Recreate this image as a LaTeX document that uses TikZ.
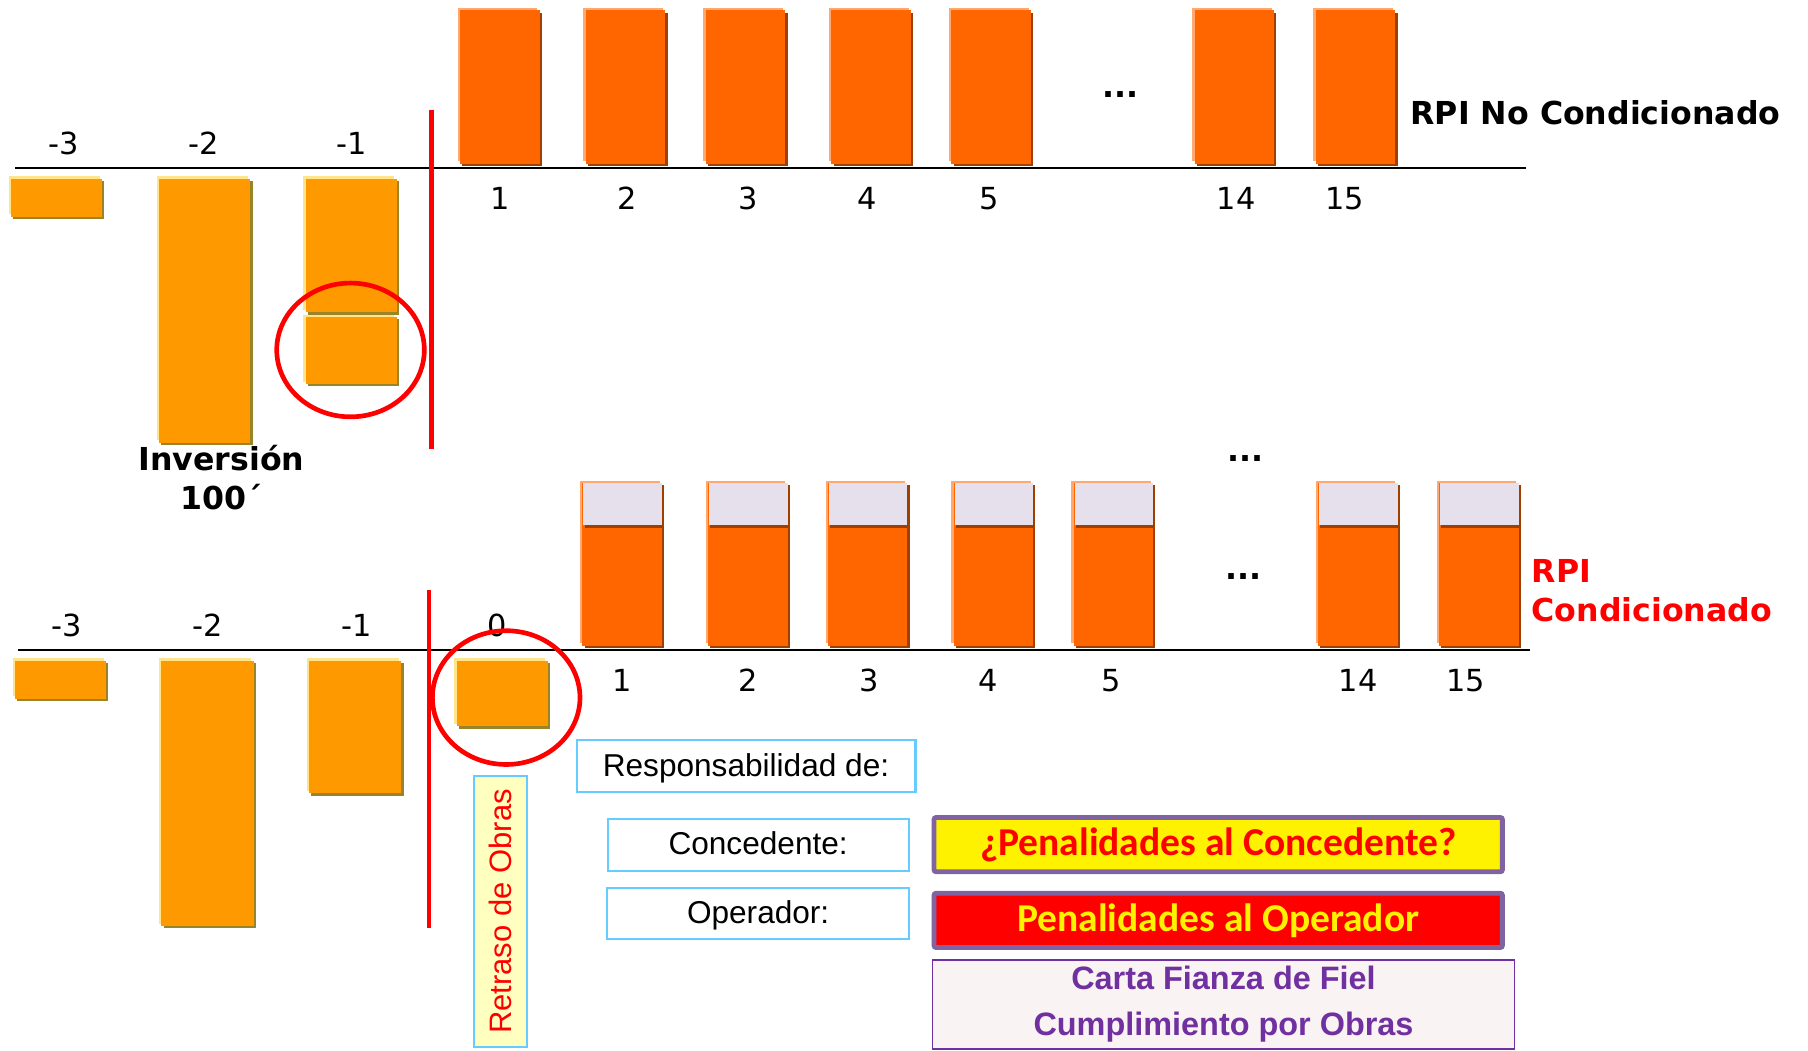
\documentclass[tikz,border=0pt]{standalone}
\usepackage{fontspec}
\setmainfont{Liberation Sans}
\newfontfamily\numfont{DejaVu Sans}
\newfontfamily\calfont{Carlito}
\usetikzlibrary{positioning}

\definecolor{barDark}{HTML}{FF6600}
\definecolor{barDarkHi}{HTML}{FFA870}
\definecolor{barDarkSh}{HTML}{A04000}
\definecolor{barLight}{HTML}{FF9900}
\definecolor{barLightHi}{HTML}{FFE48C}
\definecolor{barLightSh}{HTML}{9A8428}
\definecolor{capGrey}{HTML}{E6E0EC}
\definecolor{boxBlue}{HTML}{66CCFF}
\definecolor{boxPurple}{HTML}{8064A2}
\definecolor{txtPurple}{HTML}{7030A0}
\definecolor{retrasoFill}{HTML}{FFFFC0}
\definecolor{cartaFill}{HTML}{F9F3F3}

% bar with highlight and shadow: x1, y1, x2, y2, colour
\newcommand\colbar[5]{%
  \fill[#5Hi] (#1-2,#2-2) rectangle (#3-2,#4-2);
  \fill[#5Sh] (#1+2,#2+2) rectangle (#3+2,#4+2);
  \fill[#5] (#1,#2) rectangle (#3,#4);
}

\begin{document}
\begin{tikzpicture}[x=0.02cm,y=-0.02cm,
    num/.style={font=\numfont\fontsize{15}{18}\selectfont},
    heading/.style={font=\numfont\bfseries\fontsize{15.6}{19.4}\selectfont},
    redline/.style={draw=red,line width=2.3pt},
    axis/.style={line width=1pt},
    bluebox/.style={draw=boxBlue,line width=1pt,fill=white,inner sep=0pt,
      minimum height=0.9cm,text depth=0.05cm,font=\fontsize{15.6}{18}\selectfont},
    penbox/.style={draw=boxPurple,line width=2.4pt,rounded corners=1pt,inner sep=0pt,
      minimum width=9.86cm,minimum height=0.94cm,font=\calfont\bfseries\fontsize{19.5}{23}\selectfont}]
  \useasboundingbox (0,0) rectangle (1568,911);

  % upper time line: RPI no condicionado
  \draw[axis] (13,146) -- (1323,146);
  \foreach \x/\n [count=\i] in {55/-3,177/-2,305/-1}
    \node[num] (tu\i) at (\x,124) {\n};
  \colbar{9.5}{155}{88.5}{188}{barLight}
  \colbar{138}{155}{217}{384}{barLight}
  \colbar{265}{155}{344}{271}{barLight}
  \colbar{265}{275}{344}{333}{barLight}
  \draw[redline] (304,303.5) ellipse [x radius=64,y radius=58];
  \draw[redline] (374,95) -- (374,389);
  \foreach \x/\l/\n in {399/434/1,508/544/2,612/649/3,721/752/4,825/858/5,1036/1072/14,1141/1166/15} {
    \colbar{\x}{9}{\x+69}{142}{barDark}
    \node[num] (nu\n) at (\l,172) {\n};
  }
  \node[heading] (dotsu) at (972,82) {...};
  \node[heading,anchor=west,inner sep=0pt] (rpinc) at (1223,98) {RPI No Condicionado};
  \node[heading,align=center] (inv) at (192,414) {Inversión\\100´};

  % lower time line: RPI condicionado
  \draw[axis] (16,564) -- (1327,564);
  \foreach \x/\n [count=\i] in {58/-3,180/-2,309/-1,431/0}
    \node[num] (tl\i) at (\x,542) {\n};
  \colbar{13}{573}{92}{606}{barLight}
  \colbar{140}{573}{220}{803}{barLight}
  \colbar{268}{573}{348}{688}{barLight}
  \colbar{396}{573}{475}{630}{barLight}
  \draw[redline] (439,605) ellipse [x radius=64,y radius=58];
  \draw[redline] (372,512) -- (372,805);
  \foreach \x/\l/\n in {505/540/1,614/649/2,718/754/3,827/857/4,931/964/5,1143/1178/14,1248/1271/15} {
    \colbar{\x}{419}{\x+69}{560}{barDark}
    \fill[barDarkSh] (\x+2,421) rectangle (\x+71,458);
    \fill[capGrey] (\x+1,419) rectangle (\x+69,455);
    \node[num] (nl\n) at (\l,590) {\n};
  }
  \node[heading] (dotsa) at (1080,398) {...};
  \node[heading] (dotsb) at (1078,500) {...};
  \node[heading,red,anchor=west,align=left,inner sep=0pt] (rpic) at (1328,512) {RPI\\Condicionado};

  % responsabilidades
  \node[draw=boxBlue,line width=1pt,fill=retrasoFill,text=red,rotate=90,inner sep=0pt,
    minimum width=4.7cm,minimum height=0.92cm,font=\fontsize{15.3}{18}\selectfont]
    (retraso) at (434,790.5) {Retraso de Obras};
  \node[bluebox,minimum width=5.88cm] (resp) at (647,664.5) {Responsabilidad de:};
  \node[bluebox,minimum width=5.22cm] (conc) at (657.5,732.5) {Concedente:};
  \node[bluebox,minimum width=5.24cm,below=0.26cm of conc] (oper) {Operador:};
  \node[penbox,fill=yellow,text=red] (penc) at (1056.5,732.5) {¿Penalidades al Concedente?};
  \node[penbox,fill=red,text=yellow,below=0.29cm of penc] (peno) {Penalidades al Operador};
  \node[draw=txtPurple,line width=0.8pt,fill=cartaFill,text=txtPurple,inner sep=0pt,
    minimum width=10.1cm,minimum height=1.54cm,align=center,text depth=0.12cm,
    font=\bfseries\fontsize{16}{22.7}\selectfont,
    below right=0.16cm and 0cm of peno.south west] (carta) {Carta Fianza de Fiel\\Cumplimiento por Obras};
\end{tikzpicture}
\end{document}
